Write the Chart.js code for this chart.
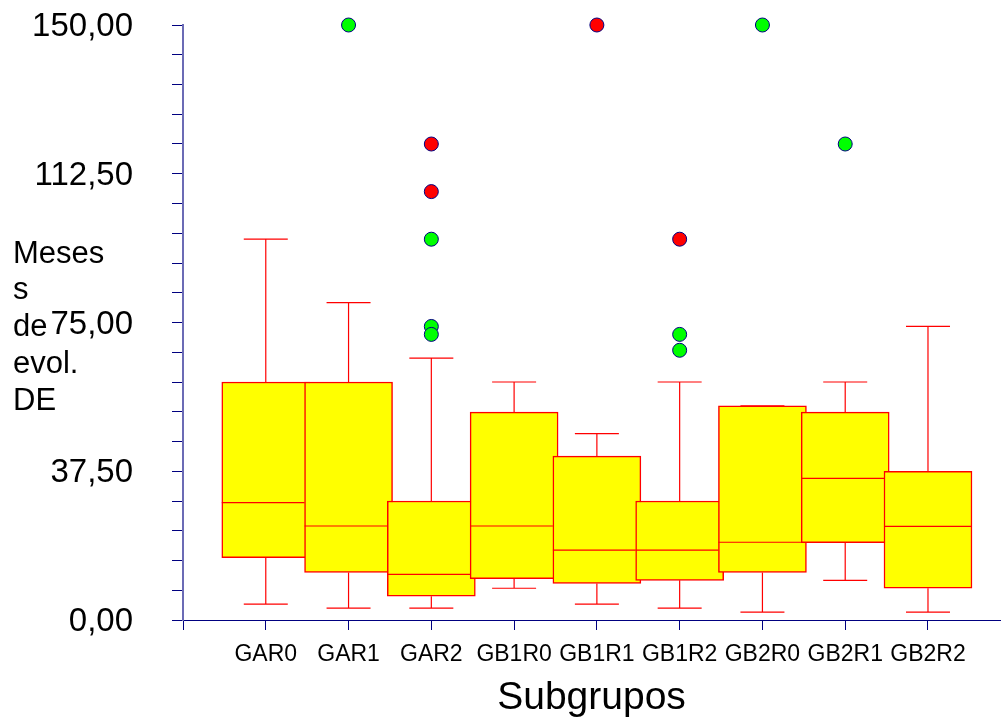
<!DOCTYPE html>
<html>
<head>
<meta charset="utf-8">
<script src="https://cdn.jsdelivr.net/npm/chart.js@4/dist/chart.umd.min.js"></script>
<style>
  html, body { margin: 0; padding: 0; background: #ffffff; }
  #wrap { width: 1002px; height: 722px; }
</style>
</head>
<body>
<div id="wrap"><canvas id="c" width="1002" height="722"></canvas></div>
<script>
// Box-plot summary per subgroup (months of evolution)
const categories  = ['GAR0', 'GAR1', 'GAR2', 'GB1R0', 'GB1R1', 'GB1R2', 'GB2R0', 'GB2R1', 'GB2R2'];
const whiskerLow  = [4, 3, 3, 8, 4, 3, 2, 10, 2];
const q1          = [15.7, 12, 6, 10.4, 9.2, 10, 12, 19.5, 8];
const median      = [29.6, 23.7, 11.5, 23.7, 17.6, 17.6, 19.6, 35.7, 23.6];
const q3          = [60, 60, 30, 52.4, 41.3, 30, 54, 52.4, 37.5];
const whiskerHigh = [96, 80, 66, 60, 47, 60, 54, 60, 74];
const greenOutliers = [[], [150], [96, 74, 72], [], [], [72, 68], [150], [120], []];
const redOutliers   = [[], [], [120, 108], [], [150], [96], [], [], []];
const yTickValues = [0, 37.5, 75, 112.5, 150];
const yTitleLines = ['Meses', 's', 'de', 'evol.', 'DE'];
const xTitle = 'Subgrupos';

const FONT = "'Liberation Sans', Arial, sans-serif";
const RED = '#ff0000';
const NAVY = '#000080';

function outlierPoints(lists) {
  const pts = [];
  lists.forEach((vals, i) => vals.forEach(v => pts.push({ x: i + 1, y: v })));
  return pts;
}

// Whiskers and median lines, drawn right after the boxes
const boxDetails = {
  id: 'boxDetails',
  afterDatasetDraw(chart, args) {
    if (args.index !== 0) return;
    const ctx = chart.ctx;
    const y = chart.scales.y;
    const bars = args.meta.data;
    ctx.save();
    ctx.strokeStyle = RED;
    ctx.lineWidth = 1.2;
    bars.forEach((bar, i) => {
      const cx = bar.x;
      const half = bar.width / 2;
      const cap = half / 2;
      const yHi = y.getPixelForValue(whiskerHigh[i]);
      const yQ3 = y.getPixelForValue(q3[i]);
      const yQ1 = y.getPixelForValue(q1[i]);
      const yLo = y.getPixelForValue(whiskerLow[i]);
      ctx.beginPath();
      ctx.moveTo(cx, yQ3); ctx.lineTo(cx, yHi);
      ctx.moveTo(cx - cap, yHi); ctx.lineTo(cx + cap, yHi);
      ctx.moveTo(cx, yQ1); ctx.lineTo(cx, yLo);
      ctx.moveTo(cx - cap, yLo); ctx.lineTo(cx + cap, yLo);
      ctx.stroke();
      // median stops where the next box begins
      const next = bars[i + 1];
      const right = next ? Math.min(cx + half, next.x - next.width / 2) : cx + half;
      const yMed = y.getPixelForValue(median[i]);
      ctx.beginPath();
      ctx.moveTo(cx - half, yMed); ctx.lineTo(right, yMed);
      ctx.stroke();
    });
    ctx.restore();
  }
};

// Stacked y-axis caption on the left
const yCaption = {
  id: 'yCaption',
  afterDraw(chart) {
    const ctx = chart.ctx;
    ctx.save();
    ctx.fillStyle = '#000000';
    ctx.font = '31px ' + FONT;
    ctx.textAlign = 'left';
    ctx.textBaseline = 'alphabetic';
    yTitleLines.forEach((line, k) => ctx.fillText(line, 13, 262.5 + k * 36.9));
    ctx.restore();
  }
};

new Chart(document.getElementById('c'), {
  type: 'bar',
  data: {
    datasets: [
      {
        type: 'bar',
        order: 2,
        data: categories.map((c, i) => ({ x: i + 1, y: [q1[i], q3[i]] })),
        backgroundColor: '#ffff00',
        borderColor: RED,
        borderWidth: 1.5,
        borderSkipped: false,
        barThickness: 88
      },
      {
        type: 'scatter',
        order: 1,
        data: outlierPoints(greenOutliers),
        pointRadius: 7,
        pointBackgroundColor: '#00ff00',
        pointBorderColor: NAVY,
        pointBorderWidth: 1,
        clip: false
      },
      {
        type: 'scatter',
        order: 1,
        data: outlierPoints(redOutliers),
        pointRadius: 7,
        pointBackgroundColor: '#ff0000',
        pointBorderColor: NAVY,
        pointBorderWidth: 1,
        clip: false
      }
    ]
  },
  options: {
    responsive: false,
    animation: false,
    devicePixelRatio: 1,
    layout: { autoPadding: false, padding: { left: 0, right: 2, top: 25, bottom: 0 } },
    plugins: { legend: { display: false }, tooltip: { enabled: false } },
    scales: {
      x: {
        type: 'linear',
        offset: false,
        min: 0,
        max: 9.87,
        afterBuildTicks: s => { s.ticks = [{ value: 0 }].concat(categories.map((c, i) => ({ value: i + 1 }))); },
        afterFit: s => { s.height = 102; s.paddingLeft = 0; s.paddingRight = 0; },
        ticks: {
          autoSkip: false,
          maxRotation: 0,
          padding: 11,
          color: '#000000',
          font: { family: FONT, size: 23 },
          callback: v => categories[v - 1] || ''
        },
        grid: { offset: false, drawOnChartArea: false, drawTicks: true, tickLength: 10, tickColor: NAVY, tickWidth: 1 },
        border: { display: true, color: NAVY, width: 1 },
        title: {
          display: true,
          text: xTitle,
          color: '#000000',
          font: { family: FONT, size: 39 },
          padding: 0
        }
      },
      y: {
        type: 'linear',
        min: 0,
        max: 150,
        afterBuildTicks: s => {
          const t = [];
          for (let k = 0; k <= 20; k++) t.push({ value: k * 7.5 });
          s.ticks = t;
        },
        afterFit: s => { s.width = 183; s.paddingTop = 0; s.paddingBottom = 0; },
        ticks: {
          autoSkip: false,
          padding: 39,
          labelOffset: 2,
          color: '#000000',
          font: { family: FONT, size: 33 },
          callback: v => yTickValues.includes(v) ? v.toFixed(2).replace('.', ',') : ''
        },
        grid: { drawOnChartArea: false, drawTicks: true, tickLength: 11, tickColor: NAVY, tickWidth: 1 },
        border: { display: true, color: '#6b6bb5', width: 2 }
      }
    }
  },
  plugins: [boxDetails, yCaption]
});
</script>
</body>
</html>
